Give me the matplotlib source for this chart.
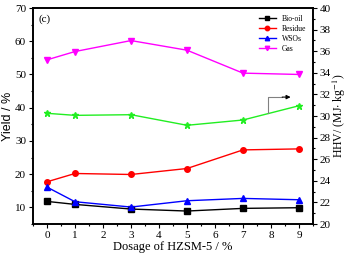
import matplotlib
matplotlib.use('Agg')
import matplotlib.pyplot as plt
from matplotlib.ticker import MultipleLocator

plt.rcParams['font.family'] = ['Liberation Serif', 'DejaVu Serif']
plt.rcParams['mathtext.fontset'] = 'stix'

dosage = [0, 1, 3, 5, 7, 9]
bio_oil = [11.8, 10.9, 9.5, 8.9, 9.7, 9.9]
residue = [17.7, 20.2, 19.9, 21.7, 27.3, 27.6]
wsos = [16.1, 11.7, 10.1, 12.0, 12.7, 12.3]
gas = [54.4, 56.9, 60.2, 57.3, 50.4, 50.0]
hhv = [30.25, 30.06, 30.12, 29.14, 29.63, 30.95]

fig = plt.figure(figsize=(3.48, 2.59), dpi=100)
ax = fig.add_axes([33 / 348, 1 - 224 / 259, 280 / 348, 216 / 259])
ax2 = ax.twinx()

lw = 1.0
ms = 4
ax.plot(dosage, bio_oil, color='black', marker='s', lw=lw, ms=ms, label='Bio-oil')
ax.plot(dosage, residue, color='red', marker='o', lw=lw, ms=ms, label='Residue')
ax.plot(dosage, wsos, color='blue', marker='^', lw=lw, ms=ms, label='WSOs')
ax.plot(dosage, gas, color='magenta', marker='v', lw=lw, ms=ms, label='Gas')
ax2.plot(dosage, hhv, color='#22ee22', marker='*', lw=lw, ms=5)

ax.set_xlim(-0.5, 9.5)
ax.set_ylim(5, 70)
ax2.set_ylim(20, 40)
ax.xaxis.set_major_locator(MultipleLocator(1))
ax.xaxis.set_minor_locator(MultipleLocator(0.5))
ax.yaxis.set_major_locator(MultipleLocator(10))
ax.yaxis.set_minor_locator(MultipleLocator(5))
ax2.yaxis.set_major_locator(MultipleLocator(2))
ax2.yaxis.set_minor_locator(MultipleLocator(1))

for a in (ax, ax2):
    a.tick_params(which='major', length=3, width=0.8, labelsize=8, pad=2)
    a.tick_params(which='minor', length=1.5, width=0.8)
    for s in a.spines.values():
        s.set_linewidth(1.2)

ax.set_xlabel('Dosage of HZSM-5 / %', fontsize=9, labelpad=1)
ax.set_ylabel('Yield / %', fontsize=9, family=['Liberation Sans', 'DejaVu Sans'], labelpad=1)
ax2.set_ylabel('HHV/ (MJ$\\cdot$ kg$^{-1}$)', fontsize=8.5, labelpad=0)
ax.text(0.02, 0.97, '(c)', transform=ax.transAxes, fontsize=8, va='top', ha='left')

ax2.plot([7.9, 7.9, 8.4], [30.3, 31.75, 31.75], color='gray', lw=0.8)
ax2.annotate('', xy=(8.8, 31.75), xytext=(8.3, 31.75),
             arrowprops=dict(arrowstyle='-|>', color='black', lw=0.8, mutation_scale=6))

leg = ax.legend(loc='upper right', fontsize=5.5, frameon=False, handlelength=2.2,
                labelspacing=0.25, borderaxespad=0.5, markerscale=0.8)

fig.savefig('out.png', dpi=100)
